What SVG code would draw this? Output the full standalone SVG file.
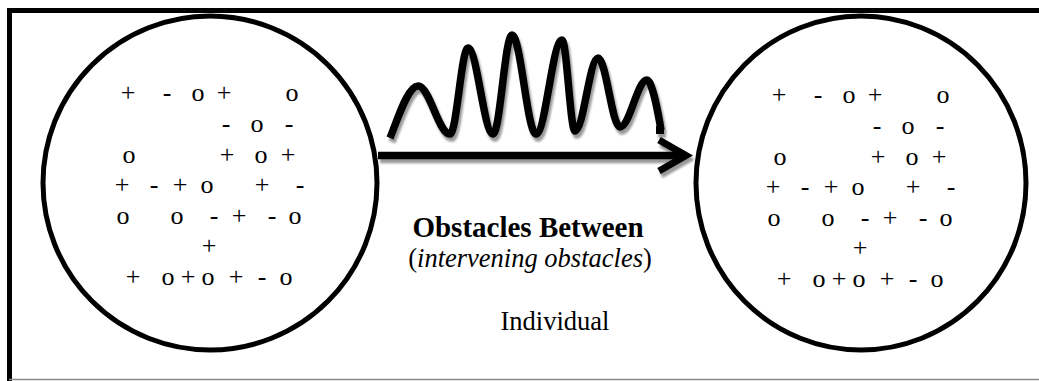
<svg xmlns="http://www.w3.org/2000/svg" width="1039" height="381" viewBox="0 0 1039 381">
  <style>
    .ring { fill: #fff; stroke: #000; stroke-width: 5; }
    .sym { font-size: 26px; fill: #000; text-anchor: middle; }
    .lbl { fill: #000; text-anchor: middle; }
    .wire { fill: none; stroke: #000; stroke-width: 7.5; }
  </style>
  <defs>
    <filter id="shadow" x="-10%" y="-20%" width="130%" height="160%">
      <feDropShadow dx="2" dy="4" stdDeviation="1.3" flood-color="#000" flood-opacity="0.4"/>
    </filter>
    <marker id="chevron" markerUnits="userSpaceOnUse" markerWidth="60" markerHeight="60" refX="0" refY="0" orient="auto" overflow="visible">
      <path d="M-27,-15.5 L0,0 L-27,15.5" fill="none" stroke="#000" stroke-width="7" stroke-linejoin="miter"/>
    </marker>
    <g id="particles" font-family="Liberation Serif, serif">
      <text class="sym" x="128 167 198 224 292" y="101">+-o+o</text>
      <text class="sym" x="226 257 289" y="132">-o-</text>
      <text class="sym" x="129 227 261 288" y="163">o+o+</text>
      <text class="sym" x="122 154 180 207 262 300" y="193">+-+o+-</text>
      <text class="sym" x="123 177 214 239 272 295" y="224">oo-+-o</text>
      <text class="sym" x="209" y="254">+</text>
      <text class="sym" x="133 168 188 208 236 262 286" y="285">+o+o+-o</text>
    </g>
  </defs>

  <rect width="1039" height="381" fill="#fff"/>

  <g id="frame">
    <line x1="9.5" y1="8" x2="9.5" y2="381" stroke="#000" stroke-width="5"/>
    <line x1="7" y1="10.5" x2="1039" y2="10.5" stroke="#000" stroke-width="5"/>
    <line x1="9" y1="379.5" x2="1039" y2="379.5" stroke="#8a8a8a" stroke-width="1.5"/>
  </g>

  <g id="connectors" filter="url(#shadow)">
    <path id="wave" class="wire" d="M390,138 C398,118 408,86 418,86 C429.6,86 438.4,134 450,134 C456.6,134 461.4,48 468,48 C477,48 484,134 493,134 C500,134 505,35 512,35 C520.7,35 527.3,134 536,134 C545.5,134 552.5,40 562,40 C566.7,40 570.3,131 575,131 C583.4,131 589.6,58 598,58 C606,58 612,127 620,127 C629.8,127 637.2,80 647,80 C652,80 658,112 661,130"/>
    <rect x="656" y="126" width="8" height="8" fill="#000"/>
    <path id="arrow" class="wire" d="M378,155.5 H686" marker-end="url(#chevron)"/>
  </g>

  <g id="node-left">
    <circle class="ring" cx="210" cy="183" r="167"/>
    <use href="#particles"/>
  </g>

  <g id="node-right">
    <ellipse class="ring" cx="861" cy="183" rx="165" ry="167"/>
    <use href="#particles" transform="translate(651,2)"/>
  </g>

  <g id="label-obstacles" font-family="Liberation Serif, serif">
    <text class="lbl" x="528" y="237" font-size="29" font-weight="bold">Obstacles Between</text>
    <text class="lbl" x="530" y="267" font-size="26.5">(<tspan font-style="italic">intervening obstacles</tspan>)</text>
  </g>

  <g id="label-individual" font-family="Liberation Serif, serif">
    <text class="lbl" x="555" y="330" font-size="26.5">Individual</text>
  </g>
</svg>
